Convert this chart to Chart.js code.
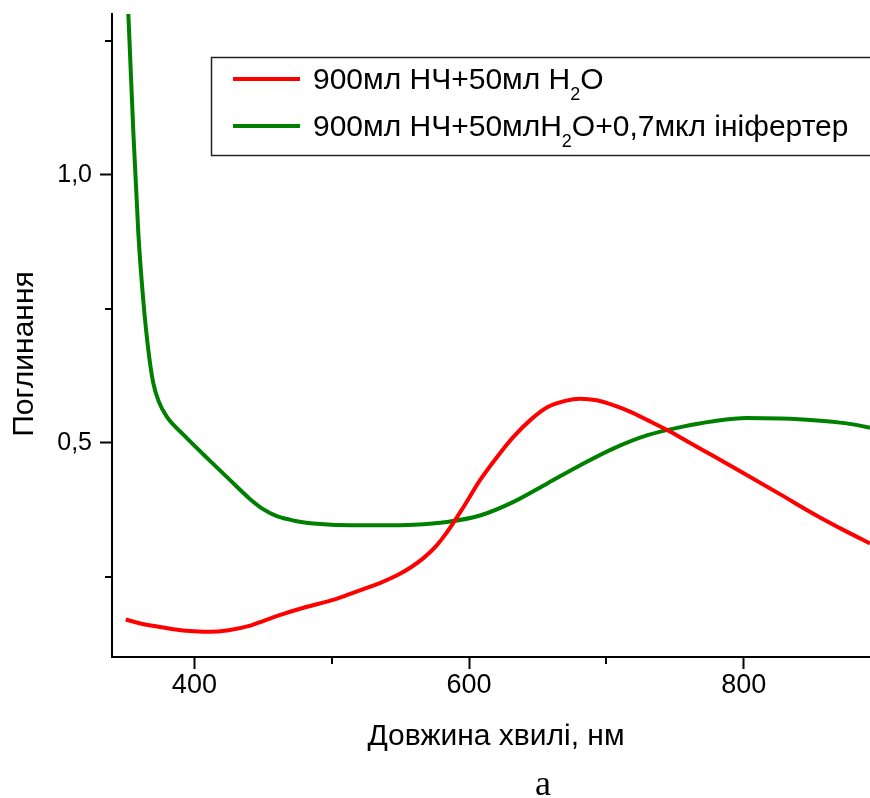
<!DOCTYPE html>
<html>
<head>
<meta charset="utf-8">
<script src="https://cdn.jsdelivr.net/npm/chart.js@4.4.1/dist/chart.umd.min.js"></script>
<style>
  html, body { margin: 0; padding: 0; background: #fff; }
  canvas { display: block; }
</style>
</head>
<body>
<canvas id="chartSpectra" width="870" height="798"></canvas>
<script>
// Дані
const waveRed = [350, 360, 375, 390, 400, 411, 425, 440, 450, 462, 477, 490, 505, 520, 535, 548, 558, 567, 576, 584, 596, 608, 620, 632, 645, 657, 670, 681, 693, 705, 718, 730, 747, 762, 778, 800, 827, 851, 875, 892];
const absRed  = [0.170, 0.163, 0.156, 0.150, 0.148, 0.147, 0.150, 0.158, 0.167, 0.178, 0.190, 0.199, 0.210, 0.224, 0.238, 0.253, 0.268, 0.285, 0.307, 0.333, 0.380, 0.430, 0.472, 0.510, 0.543, 0.566, 0.578, 0.582, 0.579, 0.570, 0.557, 0.542, 0.520, 0.498, 0.475, 0.443, 0.403, 0.367, 0.334, 0.312];

const waveGreen = [350, 352, 355.6, 359.2, 362.8, 366.5, 370, 374, 380, 392, 411, 426, 440, 450, 460, 470, 480, 500, 535, 560, 584, 608, 632, 657, 681, 705, 730, 754, 778, 802, 827, 851, 875, 892];
const absGreen  = [1.40, 1.294, 1.076, 0.890, 0.765, 0.672, 0.612, 0.577, 0.548, 0.515, 0.467, 0.430, 0.396, 0.376, 0.363, 0.356, 0.351, 0.347, 0.346, 0.347, 0.352, 0.364, 0.389, 0.424, 0.458, 0.489, 0.514, 0.529, 0.540, 0.546, 0.545, 0.542, 0.536, 0.528];

const seriesLabels = ["900мл НЧ+50мл H₂O", "900мл НЧ+50млH₂O+0,7мкл ініфертер"];
const seriesColors = ["#ff0000", "#008000"];

const xTicks = [400, 500, 600, 700, 800];
const xLabeled = [400, 600, 800];
const yTicks = [0.25, 0.5, 0.75, 1.0, 1.25];
const yLabeled = [0.5, 1.0];

const fmtY = v => v.toFixed(1).replace(".", ",");
const toPoints = (xs, ys) => xs.map((x, i) => ({ x: x, y: ys[i] }));

// короткі проміжні риски, підписи осей, легенда з нижнім індексом
const decorPlugin = {
  id: "decor",
  afterDraw(chart) {
    const ctx = chart.ctx;
    const xs = chart.scales.x, ys = chart.scales.y;
    const area = chart.chartArea;
    ctx.save();
    ctx.strokeStyle = "#000";
    ctx.lineWidth = 2;
    xTicks.filter(v => !xLabeled.includes(v)).forEach(v => {
      const px = Math.round(xs.getPixelForValue(v));
      ctx.beginPath(); ctx.moveTo(px, area.bottom); ctx.lineTo(px, area.bottom + 7); ctx.stroke();
    });
    yTicks.filter(v => !yLabeled.includes(v)).forEach(v => {
      const py = Math.round(ys.getPixelForValue(v));
      ctx.beginPath(); ctx.moveTo(area.left, py); ctx.lineTo(area.left - 7, py); ctx.stroke();
    });

    // підписи осей
    ctx.fillStyle = "#000";
    ctx.font = "30px 'Liberation Sans', Arial, sans-serif";
    ctx.textAlign = "center";
    ctx.textBaseline = "alphabetic";
    ctx.fillText("Довжина хвилі, нм", 496, 745);
    ctx.save();
    ctx.translate(33, 354);
    ctx.rotate(-Math.PI / 2);
    ctx.fillText("Поглинання", 0, 0);
    ctx.restore();
    ctx.font = "36px 'Liberation Serif', 'Times New Roman', serif";
    ctx.fillText("а", 543, 795);

    // легенда
    ctx.lineWidth = 1.5;
    ctx.strokeStyle = "#222";
    ctx.strokeRect(211.5, 57.5, 700, 98);
    const rowsY = [79, 126];
    chart.data.datasets.forEach((ds, i) => {
      const y = rowsY[i];
      ctx.strokeStyle = ds.borderColor;
      ctx.lineWidth = 4;
      ctx.beginPath(); ctx.moveTo(233, y); ctx.lineTo(300, y); ctx.stroke();
      let x = 313;
      const base = y + 10;
      ctx.textAlign = "left";
      ctx.fillStyle = "#000";
      ds.label.split(/(₂)/).forEach(part => {
        if (part === "₂") {
          ctx.font = "18px 'Liberation Sans', Arial, sans-serif";
          ctx.fillText("2", x, base + 11);
          x += ctx.measureText("2").width;
        } else if (part) {
          ctx.font = "30px 'Liberation Sans', Arial, sans-serif";
          ctx.fillText(part, x, base);
          x += ctx.measureText(part).width;
        }
      });
    });
    ctx.restore();
  }
};

const whiteBg = {
  id: "whiteBg",
  beforeDraw(chart) {
    const ctx = chart.ctx;
    ctx.save();
    ctx.fillStyle = "#fff";
    ctx.fillRect(0, 0, chart.width, chart.height);
    ctx.restore();
  }
};

new Chart(document.getElementById("chartSpectra").getContext("2d"), {
  type: "line",
  data: {
    datasets: [
      { label: seriesLabels[0], data: toPoints(waveRed, absRed), borderColor: seriesColors[0], borderWidth: 4 },
      { label: seriesLabels[1], data: toPoints(waveGreen, absGreen), borderColor: seriesColors[1], borderWidth: 4 }
    ]
  },
  options: {
    responsive: false,
    animation: false,
    devicePixelRatio: 1,
    layout: { padding: { top: 14, left: 0, right: 0, bottom: 0 } },
    elements: {
      point: { radius: 0 },
      line: { cubicInterpolationMode: "monotone", fill: false }
    },
    plugins: { legend: { display: false }, tooltip: { enabled: false } },
    scales: {
      x: {
        type: "linear",
        min: 340, max: 892,
        afterBuildTicks: s => { s.ticks = xTicks.map(v => ({ value: v })); },
        afterFit: s => { s.height = 141; s.paddingLeft = 0; s.paddingRight = 0; },
        border: { display: true, color: "#000", width: 2 },
        grid: {
          drawOnChartArea: false, drawTicks: true, tickLength: 12, tickWidth: 2,
          tickColor: c => xLabeled.includes(c.tick.value) ? "#000" : "rgba(0,0,0,0)"
        },
        ticks: {
          autoSkip: false, maxRotation: 0, padding: 0, color: "#000",
          font: { family: "'Liberation Sans', Arial, sans-serif", size: 27 },
          callback: v => xLabeled.includes(v) ? String(v) : ""
        }
      },
      y: {
        type: "linear",
        min: 0.1, max: 1.3,
        afterBuildTicks: s => { s.ticks = yTicks.map(v => ({ value: v })); },
        afterFit: s => { s.width = 112; s.paddingTop = 0; s.paddingBottom = 0; },
        border: { display: true, color: "#000", width: 2 },
        grid: {
          drawOnChartArea: false, drawTicks: true, tickLength: 12, tickWidth: 2,
          tickColor: c => yLabeled.includes(c.tick.value) ? "#000" : "rgba(0,0,0,0)"
        },
        ticks: {
          autoSkip: false, padding: 8, color: "#000",
          font: { family: "'Liberation Sans', Arial, sans-serif", size: 25 },
          callback: v => yLabeled.includes(v) ? fmtY(v) : ""
        }
      }
    }
  },
  plugins: [whiteBg, decorPlugin]
});
</script>
</body>
</html>
